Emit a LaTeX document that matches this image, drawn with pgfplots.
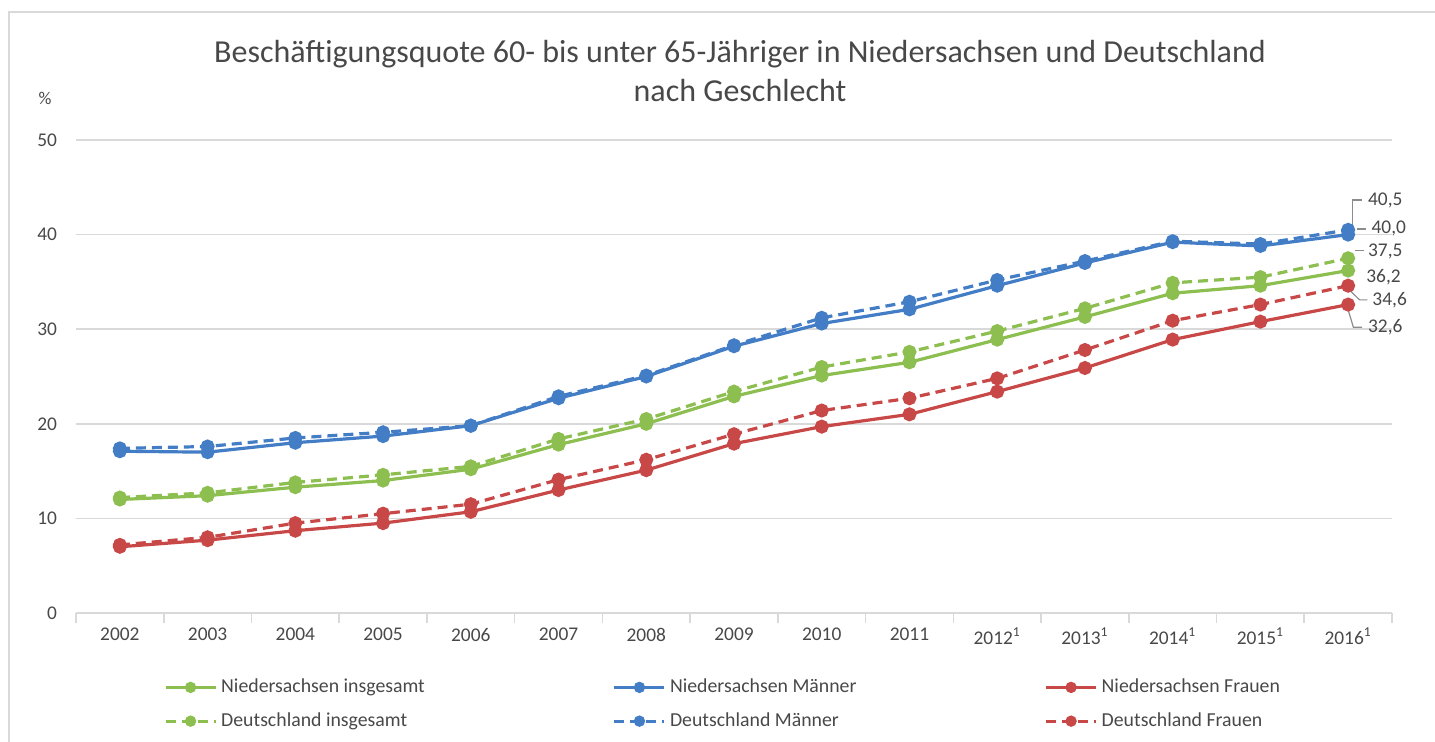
\documentclass[border=0pt]{standalone}
\usepackage{fontspec}
\setmainfont{Carlito}
\usepackage{pgfplots}
\pgfplotsset{compat=1.18}
\definecolor{cgreen}{RGB}{140,190,80}
\definecolor{cblue}{RGB}{66,125,198}
\definecolor{cred}{RGB}{200,72,72}
\definecolor{txt}{RGB}{72,72,72}
\definecolor{gridc}{RGB}{217,217,217}
\definecolor{leader}{RGB}{140,140,140}

\pgfplotstableread{
x niins niman nifrau deins deman defrau
0  12.0 17.1  7.0 12.2 17.4  7.2
1  12.4 17.0  7.7 12.7 17.6  8.0
2  13.3 18.0  8.7 13.8 18.5  9.5
3  14.0 18.7  9.5 14.6 19.1 10.5
4  15.2 19.8 10.7 15.5 19.8 11.5
5  17.8 22.7 13.0 18.4 22.9 14.1
6  20.0 25.0 15.1 20.5 25.1 16.2
7  22.9 28.2 17.9 23.4 28.3 18.9
8  25.1 30.6 19.7 26.0 31.2 21.4
9  26.5 32.1 21.0 27.6 32.9 22.7
10 28.9 34.6 23.4 29.8 35.2 24.8
11 31.3 37.0 25.9 32.2 37.2 27.8
12 33.8 39.2 28.9 34.9 39.3 30.9
13 34.6 38.8 30.8 35.5 39.0 32.6
14 36.2 40.0 32.6 37.5 40.5 34.6
}\datatable

\begin{document}
\begin{tikzpicture}
\useasboundingbox (0,0) rectangle (717.5pt,371pt);
\draw[gray!30, line width=1.2pt] (4.5pt,-5pt) -- (4.5pt,365pt) -- (725pt,365pt);
\node[txt, font=\fontsize{16}{19.5}\selectfont, align=center] at (370pt,335.5pt)
  {Beschäftigungsquote 60- bis unter 65-Jähriger in Niedersachsen und Deutschland\\nach Geschlecht};
\node[txt, font=\fontsize{9}{10}\selectfont] at (22.5pt,322pt) {\%};
\begin{axis}[
  at={(38pt,64.5pt)}, anchor=south west, scale only axis,
  width=658pt, height=236.5pt,
  xmin=-0.5, xmax=14.5, ymin=0, ymax=50,
  xtick={0,...,14},
  xticklabels={2002,2003,2004,2005,2006,2007,2008,2009,2010,2011,
    2012\textsuperscript{1},2013\textsuperscript{1},2014\textsuperscript{1},2015\textsuperscript{1},2016\textsuperscript{1}},
  ytick={0,10,...,50},
  major tick length=0pt,
  ymajorgrids, grid style={gridc, line width=0.8pt},
  axis x line*=bottom, axis y line*=left,
  separate axis lines,
  y axis line style={draw=none},
  x axis line style={gridc, line width=1pt, -},
  extra x ticks={-0.5,0.5,1.5,2.5,3.5,4.5,5.5,6.5,7.5,8.5,9.5,10.5,11.5,12.5,13.5,14.5},
  extra x tick labels={},
  extra x tick style={major tick length=5pt, tick align=outside, grid=none,
     tick style={gridc, line width=0.8pt}},
  tick label style={txt, font=\fontsize{9.7}{10}\selectfont},
  /pgf/number format/assume math mode=true,
  yticklabel style={xshift=-6pt},
  xticklabel style={yshift=-4pt},
  clip=false,
  legend columns=3,
  legend cell align=left,
  legend style={draw=none, fill=none, at={(axis description cs:0.062,-0.193)}, anchor=west,
    font=\fontsize{9.9}{10.5}\selectfont, text=txt,
    /tikz/every even column/.append style={column sep=92pt},
    /tikz/row sep=4.5pt},
  legend image code/.code={\draw[#1, mark repeat=2, mark phase=2, mark size=2pt]
     plot coordinates {(0pt,0pt) (12.5pt,0pt) (25pt,0pt)};},
  every axis plot/.append style={line width=1.6pt, mark=*, mark size=2.7pt, mark options={solid}},
]
\addplot[cgreen] table[x=x,y=niins] {\datatable};
\addlegendentry{Niedersachsen insgesamt}
\addplot[cblue] table[x=x,y=niman] {\datatable};
\addlegendentry{Niedersachsen Männer}
\addplot[cred] table[x=x,y=nifrau] {\datatable};
\addlegendentry{Niedersachsen Frauen}
\addplot[cgreen, dash pattern=on 5pt off 3pt] table[x=x,y=deins] {\datatable};
\addlegendentry{Deutschland insgesamt}
\addplot[cblue, dash pattern=on 5pt off 3pt] table[x=x,y=deman] {\datatable};
\addlegendentry{Deutschland Männer}
\addplot[cred, dash pattern=on 5pt off 3pt] table[x=x,y=defrau] {\datatable};
\addlegendentry{Deutschland Frauen}

\draw[leader, line width=0.6pt] (axis cs:14.05,41.0) -- (axis cs:14.05,43.66) -- (axis cs:14.16,43.66);
\draw[leader, line width=0.6pt] (axis cs:14.1,40.6) -- (axis cs:14.2,40.6);
\draw[leader, line width=0.6pt] (axis cs:14.08,38.3) -- (axis cs:14.18,38.3);
\draw[leader, line width=0.6pt] (axis cs:14.02,34.1) -- (axis cs:14.13,33.1) -- (axis cs:14.22,33.1);
\draw[leader, line width=0.6pt] (axis cs:13.99,32.35) -- (axis cs:14.06,30.2) -- (axis cs:14.16,30.2);
\begin{scope}[every node/.style={anchor=west, text=txt, font=\fontsize{9.7}{10}\selectfont, inner sep=1pt}]
\node at (axis cs:14.2,43.66) {40,5};
\node at (axis cs:14.24,40.6) {40,0};
\node at (axis cs:14.2,38.2) {37,5};
\node at (axis cs:14.18,35.5) {36,2};
\node at (axis cs:14.25,33.1) {34,6};
\node at (axis cs:14.2,30.2) {32,6};
\end{scope}
\end{axis}
\end{tikzpicture}
\end{document}
